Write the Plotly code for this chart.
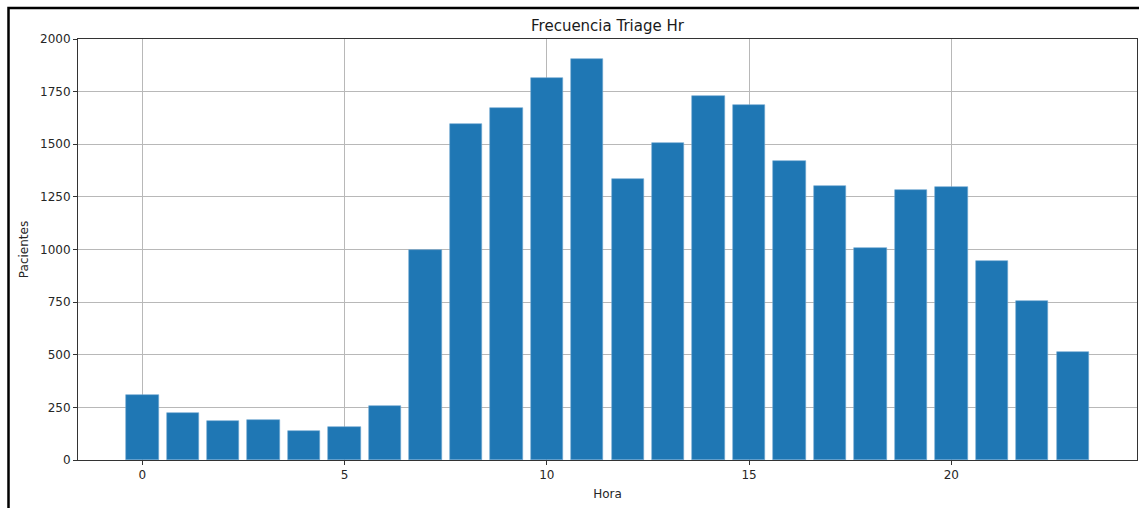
import plotly.graph_objects as go

# Patient counts per triage hour
horas = list(range(24))
pacientes = [308, 221, 184, 188, 136, 158, 258, 998, 1594, 1673, 1815, 1905,
             1333, 1507, 1728, 1685, 1420, 1303, 1009, 1283, 1298, 947, 755, 513]

x_ticks = [0, 5, 10, 15, 20]
y_ticks = [0, 250, 500, 750, 1000, 1250, 1500, 1750, 2000]

W, H = 1139, 508
L, R, T, B = 78, 2, 39, 48
pw, ph = W - L - R, H - T - B

fig = go.Figure(
    go.Bar(
        x=horas,
        y=pacientes,
        width=0.8,
        marker=dict(color="#1f77b4", line=dict(color="#6fa6d2", width=0.6)),
    )
)

font = "DejaVu Sans, sans-serif"
axis_common = dict(
    showgrid=True,
    gridcolor="#b8b8b8",
    gridwidth=0.8,
    showline=True,
    linecolor="#333333",
    linewidth=1,
    mirror=True,
    ticks="outside",
    ticklen=4,
    tickwidth=1,
    tickcolor="#333333",
    zeroline=False,
    tickfont=dict(family=font, size=12, color="#262626"),
)

fig.update_layout(
    width=W,
    height=H,
    margin=dict(l=L, r=R, t=T, b=B),
    paper_bgcolor="white",
    plot_bgcolor="white",
    showlegend=False,
    bargap=0,
    title=dict(
        text="Frecuencia Triage Hr",
        x=(L + pw / 2) / W,
        xanchor="center",
        y=1 - 26 / H,
        yanchor="middle",
        font=dict(family=font, size=15, color="#1a1a1a"),
    ),
    xaxis=dict(
        axis_common,
        range=[-1.59, 24.59],
        tickvals=x_ticks,
        title=dict(text="Hora", font=dict(family=font, size=12, color="#262626"), standoff=8),
    ),
    yaxis=dict(
        axis_common,
        range=[0, 2000],
        tickvals=y_ticks,
        title=dict(text="Pacientes", font=dict(family=font, size=12, color="#262626"), standoff=8),
    ),
)

# Black frame around the figure
fig.add_shape(
    type="rect",
    xref="paper",
    yref="paper",
    x0=(8.5 - L) / pw,
    x1=(W + 10 - L) / pw,
    y0=(T + ph - (H + 10)) / ph,
    y1=(T + ph - 8) / ph,
    line=dict(color="black", width=2.5),
    fillcolor="rgba(0,0,0,0)",
    layer="above",
)

fig.write_html("out.html")
